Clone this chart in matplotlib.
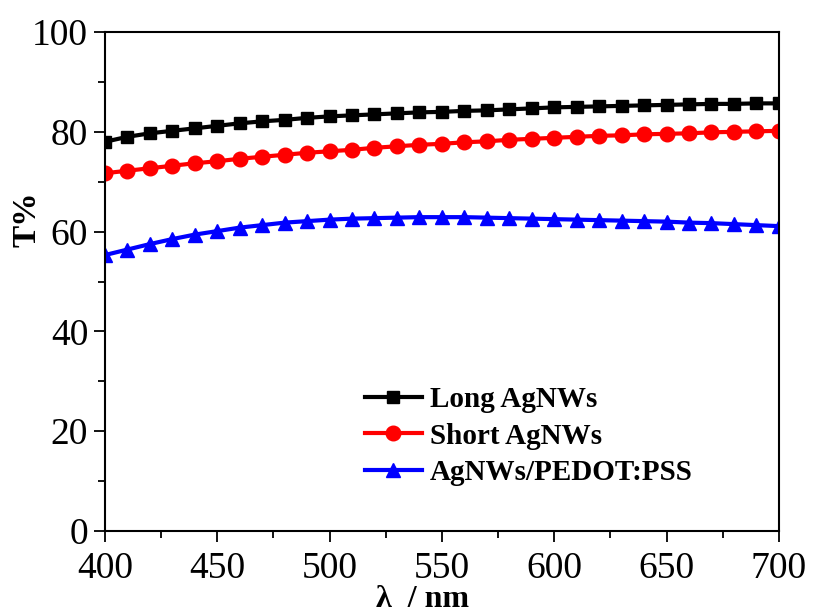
import matplotlib.pyplot as plt
import numpy as np
from matplotlib.ticker import MultipleLocator

plt.rcParams['font.family'] = ['Liberation Serif', 'DejaVu Serif']

wl = np.arange(400, 701, 10)
long_nw = [78.0, 79.0, 79.7, 80.2, 80.7, 81.2, 81.7, 82.1, 82.4, 82.8, 83.1,
           83.3, 83.5, 83.7, 83.9, 84.0, 84.2, 84.3, 84.5, 84.7, 84.9,
           85.0, 85.1, 85.2, 85.3, 85.4, 85.5, 85.6, 85.6, 85.7, 85.7]
short_nw = [71.7, 72.2, 72.7, 73.2, 73.7, 74.1, 74.6, 75.0, 75.4, 75.8, 76.1,
            76.4, 76.8, 77.1, 77.4, 77.6, 77.9, 78.1, 78.4, 78.6, 78.8,
            79.0, 79.2, 79.3, 79.5, 79.6, 79.7, 79.9, 80.0, 80.1, 80.2]
pedot = [55.3, 56.4, 57.5, 58.5, 59.4, 60.1, 60.8, 61.3, 61.8, 62.1, 62.4,
         62.6, 62.7, 62.8, 62.9, 62.9, 62.9, 62.8, 62.7, 62.6, 62.5,
         62.4, 62.3, 62.2, 62.1, 62.0, 61.8, 61.7, 61.5, 61.3, 61.1]
labels = ['Long AgNWs', 'Short AgNWs', 'AgNWs/PEDOT:PSS']

fig = plt.figure(figsize=(8.13, 6.16), dpi=100)
ax = fig.add_axes([0.129, 0.138, 0.829, 0.810])

ax.plot(wl, long_nw, color='black', marker='s', ms=9, lw=3, label=labels[0])
ax.plot(wl, short_nw, color='red', marker='o', ms=10.5, lw=3, label=labels[1])
ax.plot(wl, pedot, color='blue', marker='^', ms=10.5, lw=3, label=labels[2])

ax.set_xlim(400, 700)
ax.set_ylim(0, 100)
ax.xaxis.set_major_locator(MultipleLocator(50))
ax.xaxis.set_minor_locator(MultipleLocator(25))
ax.yaxis.set_major_locator(MultipleLocator(20))
ax.yaxis.set_minor_locator(MultipleLocator(10))
ax.tick_params(which='both', direction='out', width=1.3, labelsize=27)
ax.tick_params(which='major', length=8)
ax.tick_params(which='minor', length=5)
ax.tick_params(axis='x', which='major', pad=7)
ax.tick_params(axis='y', which='major', pad=4)
for sp in ax.spines.values():
    sp.set_linewidth(1.5)

ax.set_xlabel('λ  / nm', fontsize=23, fontweight='bold')
ax.set_ylabel('T%', fontsize=24, fontweight='bold')
ax.xaxis.set_label_coords(0.471, -0.108)
ax.yaxis.set_label_coords(-0.093, 0.625)

ax.legend(loc='upper left', bbox_to_anchor=(0.386, 0.29), frameon=False,
          prop={'size': 21, 'weight': 'bold'}, handlelength=1.95,
          handletextpad=0.28, labelspacing=0.32, borderpad=0, borderaxespad=0)

fig.savefig('out.png', dpi=100)
